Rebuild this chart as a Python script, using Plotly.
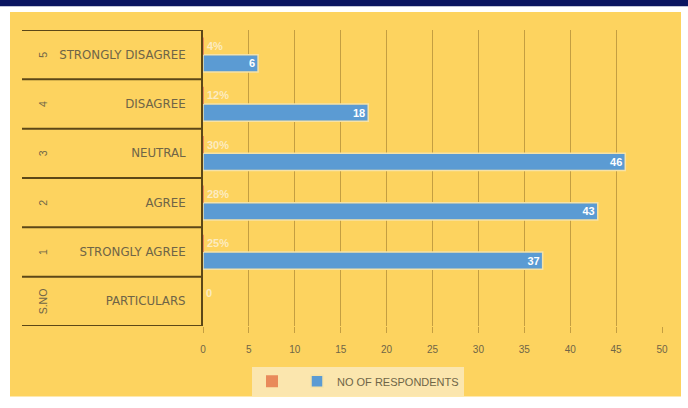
import plotly.graph_objects as go

# Survey table: S.NO, particulars, respondents, share of respondents
s_no = ["S.NO", "1", "2", "3", "4", "5"]
particulars = ["PARTICULARS", "STRONGLY AGREE", "AGREE", "NEUTRAL", "DISAGREE", "STRONGLY DISAGREE"]
respondents = [None, 37, 43, 46, 18, 6]
share = [0, 0.25, 0.28, 0.30, 0.12, 0.04]
x_ticks = list(range(0, 55, 5))

YELLOW = "#FDD35F"
BLUE = "#5B9BD3"
ORANGE = "#E98A5A"
DARK = "#5C4717"
GRID = "rgba(150,115,40,0.55)"
TEXT = "#6F6547"
FONT = "Liberation Sans"
CAT_FONT = "DejaVu Sans"
SLOT = 0.35  # thickness of each bar slot, in category units

share_text = ["0" if v == 0 else f"{v:.0%}" for v in share]

fig = go.Figure()

fig.add_trace(go.Bar(
    y=particulars, x=respondents, orientation="h",
    name="NO OF RESPONDENTS",
    width=SLOT, offset=-SLOT,
    marker=dict(color=BLUE, line=dict(color="#F6E2A6", width=1.5)),
    text=[None if v is None else str(v) for v in respondents],
    textposition="inside", insidetextanchor="end", textangle=0,
    constraintext="none",
    textfont=dict(color="white", size=11, family=FONT, weight="bold"),
    cliponaxis=False,
))

# the share series sits on its own (hidden) value axis, as fractions
fig.add_trace(go.Bar(
    y=particulars, x=share, orientation="h", xaxis="x2",
    name="",
    width=SLOT, offset=0,
    marker=dict(color=ORANGE, line=dict(width=0)),
    text=share_text, textposition="outside", textangle=0,
    textfont=dict(color="#FCEBC0", size=11, family=FONT, weight="bold"),
    cliponaxis=False,
))

# Plot area spans x 203..662 px, y 30..328 px
PW, PH, L, T = 459, 298, 203, 30


def px_x(p):
    return (p - L) / PW


def px_y(p):
    return (T + PH - p) / PH


shapes = [
    # yellow chart background
    dict(type="rect", xref="paper", yref="paper", layer="below",
         x0=px_x(10), x1=px_x(681), y0=px_y(399), y1=px_y(12),
         fillcolor=YELLOW, line=dict(width=0)),
    # navy band along the top
    dict(type="rect", xref="paper", yref="paper", layer="below",
         x0=px_x(0), x1=px_x(688), y0=px_y(6), y1=px_y(-2),
         fillcolor="#0A1560", line=dict(width=0)),
]

# row dividers of the category table
for i in range(len(particulars) + 1):
    shapes.append(dict(type="line", xref="paper", yref="y",
                       x0=px_x(22), x1=0, y0=i - 0.5, y1=i - 0.5,
                       line=dict(color=DARK, width=2)))

annotations = [
    dict(x=px_x(35), xref="paper", y=cat, yref="y", text=num,
         textangle=-90, showarrow=False,
         font=dict(color=TEXT, size=10.5, family=FONT))
    for num, cat in zip(s_no, particulars)
]

fig.update_layout(
    width=688, height=408,
    margin=dict(l=L, r=688 - L - PW, t=T, b=408 - T - PH),
    paper_bgcolor="white", plot_bgcolor="rgba(0,0,0,0)",
    barmode="overlay",
    shapes=shapes, annotations=annotations,
    font=dict(family=FONT, color=TEXT),
    showlegend=True,
    legend=dict(orientation="h", traceorder="reversed",
                x=px_x(252), y=px_y(369), xanchor="left", yanchor="top",
                bgcolor="#FBE6AE", font=dict(size=11, color=TEXT, family=FONT),
                itemwidth=30),
    xaxis=dict(range=[0, 50], tickvals=x_ticks, showgrid=True,
               gridcolor=GRID, gridwidth=1, zeroline=False,
               ticks="outside", ticklen=6, tickcolor=GRID,
               ticklabelstandoff=8, showline=False,
               tickfont=dict(size=10, color=TEXT, family=FONT)),
    xaxis2=dict(overlaying="x", range=[0, 1000], visible=False),
    yaxis=dict(type="category", categoryorder="array", categoryarray=particulars,
               range=[-0.5, len(particulars) - 0.5], showgrid=False,
               showline=True, linecolor=DARK, linewidth=2, ticks="",
               ticklabelstandoff=13,
               tickfont=dict(size=11.8, color=TEXT, family=CAT_FONT)),
)

fig.write_html("out.html")
